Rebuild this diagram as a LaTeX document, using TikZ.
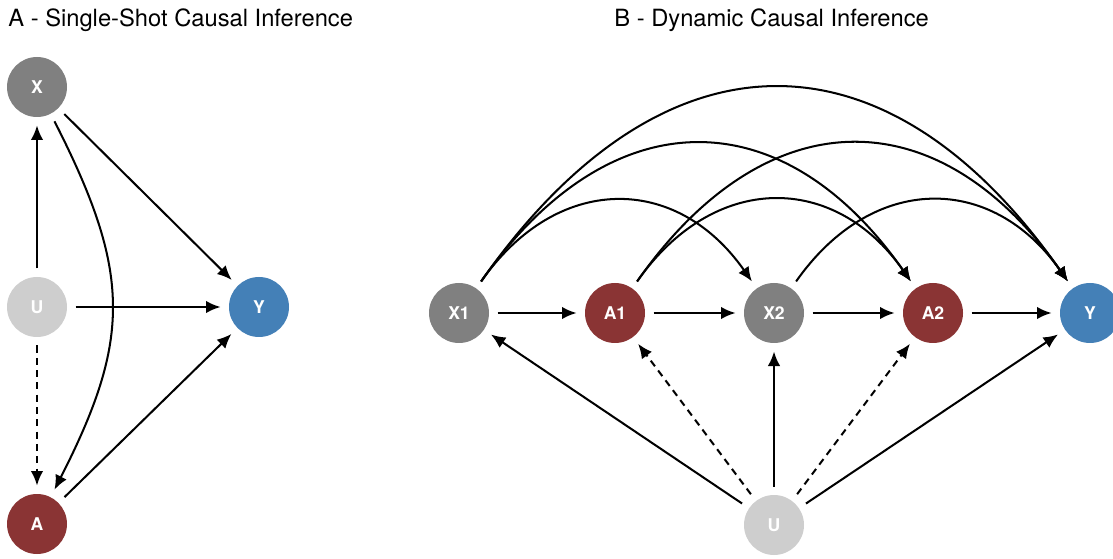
\documentclass[tikz,border=0pt]{standalone}
\usepackage{fontspec}
\setmainfont{TeX Gyre Heros}
\usetikzlibrary{arrows.meta}

\definecolor{xgray}{RGB}{128,128,128}
\definecolor{ugray}{RGB}{206,206,206}
\definecolor{ared}{RGB}{138,52,52}
\definecolor{yblue}{RGB}{68,128,183}

\tikzset{
  var/.style={circle, minimum size=1.2cm, inner sep=0pt, outer sep=0.17cm,
    text=white, font=\fontsize{10}{12}\selectfont\bfseries},
  xvar/.style={var, fill=xgray},
  uvar/.style={var, fill=ugray},
  avar/.style={var, fill=ared},
  yvar/.style={var, fill=yblue},
  edge/.style={-{Latex[length=2.9mm,width=2.5mm]}, line width=1.15pt},
  hidden/.style={edge, dash pattern=on 4pt off 3pt},
  skip1/.style={out=55, in=125, looseness=1.25},
  skip2/.style={out=55, in=125, looseness=1.34},
  skip3/.style={out=55, in=125, looseness=1.38},
  paneltitle/.style={anchor=base west, inner sep=0pt, font=\fontsize{13.5}{16}\selectfont}
}

\begin{document}
\begin{tikzpicture}
    \useasboundingbox (0,0) rectangle (22.26,-11.18);
    \clip (0,0) rectangle (22.26,-11.18);

    % A - single shot
    \node[paneltitle] (titleA) at (0.16,-0.54) {A - Single-Shot Causal Inference};
    \node[xvar] (x) at (0.74,-1.74) {X};
    \node[uvar] (u) at (0.74,-6.14) {U};
    \node[avar] (a) at (0.74,-10.48) {A};
    \node[yvar] (y) at (5.18,-6.14) {Y};

    \draw[edge] (u) -- (x);
    \draw[edge] (u) -- (y);
    \draw[hidden] (u) -- (a);
    \draw[edge] (x) -- (y);
    \draw[edge] (x) to[bend left=27, looseness=1.18] (a);
    \draw[edge] (a) -- (y);

    % B - dynamic
    \node[paneltitle] (titleB) at (12.28,-0.54) {B - Dynamic Causal Inference};
    \foreach \n/\s/\x/\l in {x1/xvar/9.18/X1, a1/avar/12.30/A1, x2/xvar/15.48/X2,
                             a2/avar/18.66/A2, yb/yvar/21.80/Y}{%
        \node[\s] (\n) at (\x,-6.26) {\l};
    }
    \node[uvar] (ub) at (15.48,-10.50) {U};

    \foreach \s/\t in {x1/a1, a1/x2, x2/a2, a2/yb}{%
        \draw[edge] (\s) -- (\t);
    }
    \draw[edge] (ub) -- (x1);
    \draw[hidden] (ub) -- (a1);
    \draw[edge] (ub) -- (x2);
    \draw[hidden] (ub) -- (a2);
    \draw[edge] (ub) -- (yb);

    \draw[edge] (x1) to[skip1] (x2);
    \draw[edge] (a1) to[skip1] (a2);
    \draw[edge] (x2) to[skip1] (yb);
    \draw[edge] (x1) to[skip2] (a2);
    \draw[edge] (a1) to[skip2] (yb);
    \draw[edge] (x1) to[skip3] (yb);
\end{tikzpicture}
\end{document}
